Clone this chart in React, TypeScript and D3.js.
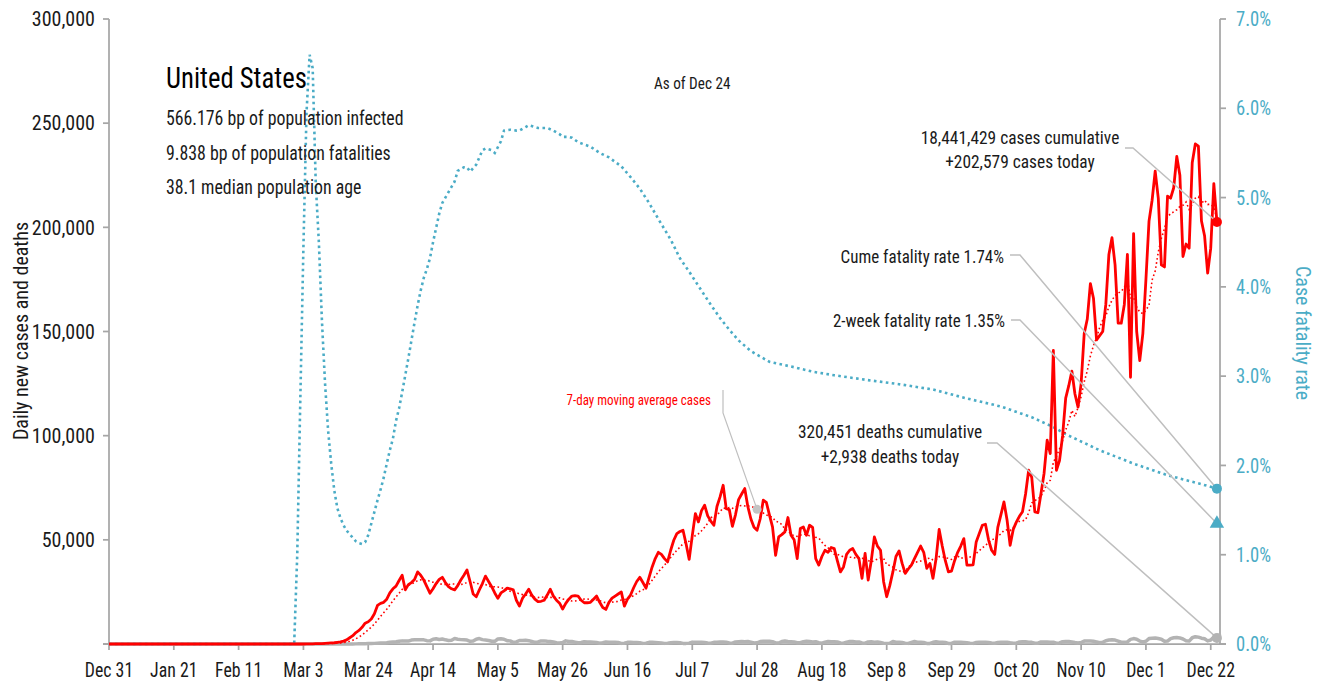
import React from "react";
import * as d3 from "d3";

// ---------- data ----------
const START = "2019-12-31";
const AXIS_END = "2020-12-25";

const tickDates = [
  "2019-12-31", "2020-01-21", "2020-02-11", "2020-03-03", "2020-03-24", "2020-04-14",
  "2020-05-05", "2020-05-26", "2020-06-16", "2020-07-07", "2020-07-28", "2020-08-18",
  "2020-09-08", "2020-09-29", "2020-10-20", "2020-11-10", "2020-12-01", "2020-12-22",
];
const leftTicks = [50000, 100000, 150000, 200000, 250000, 300000];
const rightTicks = [0, 1, 2, 3, 4, 5, 6, 7];

// daily new cases (thousands), Dec 31 2019 .. Dec 24 2020
const casesJanFeb = [
  0, 0, 0, 0, 0, 0, 0, 0, 0, 0, 0, 0, 0, 0, 0, 0, 0, 0, 0, 0,
  0, 0, 0, 0, 0, 0, 0, 0, 0, 0, 0, 0, 0, 0, 0, 0, 0, 0, 0, 0,
  0, 0, 0, 0, 0, 0, 0, 0, 0, 0, 0, 0, 0, 0, 0, 0, 0, 0, 0, 0, 0,
];
const casesMar = [0, 0, 0, 0.1, 0.1, 0.1, 0.2, 0.2, 0.2, 0.3, 0.4, 0.5, 0.6, 0.8, 1.0, 1.4, 2.0, 3.0, 4.0, 5.5, 6.5, 8.0, 10.0, 10.7, 12.0, 14.5, 18.5, 19.5, 20.0, 21.5, 24.5];
const casesApr = [26.5, 27.8, 30.5, 33.0, 26.0, 28.5, 29.5, 31.0, 34.6, 33.0, 30.7, 27.5, 24.4, 26.5, 29.0, 31.0, 32.0, 29.5, 27.5, 26.5, 26.0, 28.0, 30.7, 33.0, 35.5, 30.0, 24.0, 22.7, 26.0, 29.0];
const casesMay = [32.6, 30.0, 27.5, 24.5, 21.9, 24.5, 25.5, 26.8, 26.5, 26.0, 21.0, 18.2, 22.0, 24.0, 26.3, 23.5, 21.5, 20.3, 20.5, 21.0, 23.5, 26.3, 23.0, 21.0, 19.6, 16.8, 19.5, 21.5, 23.0, 23.2, 23.0];
const casesJun = [21.0, 19.8, 19.8, 20.0, 21.5, 23.0, 20.0, 17.5, 16.6, 20.0, 22.0, 23.0, 24.0, 25.0, 18.2, 21.5, 23.5, 27.0, 30.0, 32.0, 29.5, 26.8, 32.0, 37.0, 41.0, 44.0, 43.0, 41.0, 39.4, 45.0];
const casesJul = [49.8, 53.0, 54.0, 54.6, 48.0, 40.6, 52.0, 62.6, 58.6, 64.0, 66.6, 61.5, 59.0, 57.0, 66.0, 70.6, 76.2, 65.0, 64.5, 56.5, 62.0, 69.3, 72.0, 74.6, 66.0, 60.0, 56.0, 54.6, 60.0, 69.0, 68.0];
const casesAug = [62.0, 56.2, 42.6, 51.4, 52.5, 53.8, 60.7, 52.2, 50.0, 41.0, 55.4, 56.2, 52.2, 57.0, 56.0, 41.0, 37.9, 42.0, 45.0, 44.0, 46.3, 45.8, 40.0, 34.6, 37.0, 43.0, 45.0, 45.8, 43.0, 41.0, 31.5];
const casesSep = [43.5, 30.7, 40.0, 51.4, 47.0, 45.0, 29.9, 22.7, 28.0, 34.6, 42.0, 44.7, 38.7, 33.9, 36.0, 37.9, 41.0, 44.0, 47.0, 44.0, 36.3, 38.7, 31.5, 41.0, 55.0, 47.0, 40.0, 34.6, 35.0, 40.0];
const casesOct = [44.0, 47.0, 50.6, 37.9, 37.9, 38.0, 49.0, 53.0, 57.0, 57.5, 50.0, 45.0, 43.0, 56.0, 62.0, 68.2, 59.5, 47.4, 55.0, 58.5, 61.3, 63.5, 72.0, 83.4, 80.0, 63.4, 63.0, 72.2, 82.0, 97.8, 91.4];
const casesNov = [140.9, 83.4, 88.0, 100.0, 118.0, 124.0, 131.0, 120.0, 113.7, 125.0, 149.0, 156.0, 173.0, 166.0, 146.0, 148.0, 150.0, 163.0, 187.0, 195.0, 182.0, 154.0, 154.0, 163.0, 187.0, 128.0, 197.0, 150.0, 136.0, 149.0];
const casesDec = [175.0, 203.0, 213.0, 227.0, 214.0, 182.0, 181.0, 215.0, 214.0, 219.0, 234.0, 225.0, 186.0, 192.0, 190.0, 231.0, 240.0, 239.0, 203.0, 196.0, 178.0, 190.0, 221.0, 202.579];

// daily deaths (thousands)
const deathsJanFeb = [
  0, 0, 0, 0, 0, 0, 0, 0, 0, 0, 0, 0, 0, 0, 0, 0, 0, 0, 0, 0,
  0, 0, 0, 0, 0, 0, 0, 0, 0, 0, 0, 0, 0, 0, 0, 0, 0, 0, 0, 0,
  0, 0, 0, 0, 0, 0, 0, 0, 0, 0, 0, 0, 0, 0, 0, 0, 0, 0, 0, 0, 0,
];
const deathsMar = [0, 0, 0, 0, 0, 0, 0, 0, 0, 0, 0, 0, 0, 0, 0, 0, 0.02, 0.03, 0.05, 0.06, 0.1, 0.12, 0.14, 0.2, 0.25, 0.3, 0.4, 0.5, 0.5, 0.6, 0.9];
const deathsApr = [1.0, 1.1, 1.3, 1.5, 1.4, 1.4, 1.9, 2.0, 2.1, 2.0, 2.0, 1.6, 1.5, 2.3, 2.5, 2.2, 2.4, 2.0, 1.7, 1.8, 2.6, 2.3, 2.1, 2.0, 1.9, 1.3, 1.4, 2.3, 2.6, 2.1];
const deathsMay = [1.9, 1.7, 1.3, 1.3, 2.4, 2.5, 2.3, 1.6, 1.5, 0.8, 1.0, 1.7, 1.7, 1.8, 1.6, 1.2, 0.8, 1.0, 1.5, 1.5, 1.3, 1.2, 1.0, 0.6, 0.5, 0.7, 1.5, 1.2, 1.2, 0.9, 0.6];
const deathsJun = [0.7, 1.1, 1.0, 1.0, 0.9, 0.7, 0.4, 0.6, 1.0, 0.9, 0.9, 0.8, 0.7, 0.3, 0.4, 0.8, 0.8, 0.7, 0.7, 0.6, 0.3, 0.4, 0.8, 0.8, 0.7, 0.6, 0.5, 0.3, 0.4, 0.6];
const deathsJul = [0.7, 0.7, 0.6, 0.3, 0.3, 0.4, 0.9, 0.8, 0.9, 0.8, 0.7, 0.5, 0.4, 0.8, 0.9, 1.0, 1.0, 0.9, 0.5, 0.4, 1.0, 1.1, 1.2, 1.1, 1.2, 0.9, 0.5, 0.6, 1.2, 1.3, 1.3];
const deathsAug = [1.3, 1.1, 0.5, 0.5, 1.2, 1.4, 1.2, 1.1, 1.0, 0.6, 0.6, 1.1, 1.3, 1.2, 1.0, 1.1, 0.6, 0.4, 0.9, 1.2, 1.1, 1.1, 1.0, 0.5, 0.4, 0.9, 1.2, 1.2, 1.0, 1.0, 0.5];
const deathsSep = [0.4, 1.0, 1.1, 0.9, 1.0, 0.7, 0.4, 0.3, 0.4, 1.2, 0.9, 0.9, 0.7, 0.4, 0.3, 0.8, 1.2, 0.9, 0.9, 0.7, 0.3, 0.3, 0.8, 1.1, 0.9, 0.9, 0.7, 0.3, 0.3, 0.9];
const deathsOct = [0.9, 0.8, 0.7, 0.6, 0.4, 0.3, 0.7, 0.9, 0.9, 0.9, 0.7, 0.5, 0.4, 0.7, 0.8, 0.9, 0.9, 0.6, 0.4, 0.4, 1.0, 1.1, 1.1, 0.9, 0.8, 0.4, 0.4, 1.0, 1.0, 1.0, 0.9];
const deathsNov = [0.9, 0.4, 0.5, 1.1, 1.2, 1.2, 1.0, 0.7, 0.5, 0.7, 1.4, 1.5, 1.4, 1.3, 1.0, 0.6, 0.8, 1.6, 1.9, 2.0, 1.9, 1.4, 0.9, 0.9, 1.0, 2.2, 2.6, 2.3, 1.4, 1.0];
const deathsDec = [1.3, 2.6, 2.8, 2.9, 2.6, 2.3, 1.3, 1.4, 2.6, 3.0, 3.1, 2.9, 2.4, 1.6, 1.4, 3.0, 3.5, 3.3, 2.8, 2.5, 1.5, 1.9, 3.3, 2.938];

// cumulative case fatality rate (%), read at day offsets from Dec 31
const cfrDay = [
  0, 60, 61, 62, 63, 64, 65, 66, 67, 68, 69, 70, 71, 72, 73, 74, 75, 76, 77, 78, 79, 80,
  81, 82, 83, 84, 85, 86, 87, 88, 89, 90, 91, 92, 93, 94, 95, 96, 97, 98, 99, 100, 101, 102,
  103, 104, 105, 107, 108, 110, 112, 113, 115, 116, 117, 119, 121, 122, 124, 125, 127, 128, 130, 132,
  133, 135, 136, 138, 139, 141, 142, 144, 146, 147, 149, 150, 152, 156, 159, 162, 166, 169, 172, 175,
  178, 182, 185, 188, 191, 195, 198, 201, 204, 208, 211, 214, 218, 222, 228, 235, 245, 256, 267, 278,
  289, 299, 306, 310, 321, 332, 343, 354, 359,
];
const cfrPct = [
  0, 0, 1.0, 2.75, 4.45, 5.95, 6.6, 6.45, 5.15, 4.5, 3.62, 2.92, 2.39, 2.02, 1.72, 1.52, 1.41, 1.33, 1.27, 1.23, 1.19, 1.15,
  1.13, 1.12, 1.14, 1.22, 1.35, 1.48, 1.61, 1.73, 1.86, 2.02, 2.17, 2.3, 2.5, 2.64, 2.82, 3.01, 3.2, 3.4, 3.6, 3.79, 3.96, 4.1,
  4.2, 4.32, 4.5, 4.82, 4.94, 5.06, 5.18, 5.3, 5.34, 5.34, 5.29, 5.37, 5.53, 5.55, 5.53, 5.5, 5.63, 5.75, 5.76, 5.75,
  5.75, 5.79, 5.81, 5.79, 5.78, 5.78, 5.78, 5.75, 5.71, 5.68, 5.68, 5.67, 5.62, 5.57, 5.5, 5.45, 5.35, 5.23, 5.1, 4.94,
  4.76, 4.53, 4.32, 4.17, 4.01, 3.8, 3.65, 3.52, 3.4, 3.28, 3.22, 3.16, 3.13, 3.1, 3.05, 3.01, 2.96, 2.91, 2.85, 2.75,
  2.66, 2.54, 2.43, 2.35, 2.17, 2.02, 1.89, 1.79, 1.74,
];

const country = "United States";
const infectedBp = "566.176";
const fatalitiesBp = "9.838";
const medianAge = "38.1";
const asOfLabel = "Dec 24";
const totalCases = 18441429;
const casesToday = 202579;
const cumeFatalityRate = 1.74;
const twoWeekFatalityRate = 1.35;
const totalDeaths = 320451;
const deathsToday = 2938;
const maCalloutDay = 210;

// ---------- chart ----------
const W = 1323;
const H = 682;
const FONT = "'Liberation Sans Narrow', 'Arial Narrow', 'Roboto Condensed', 'DejaVu Sans Condensed', sans-serif";
const BLUE = "#4BACC6";
const RED = "#FF0000";
const AXIS = "#a6a6a6";
const LEADER = "#bfbfbf";
const DEATH = "#b3b3b3";
const INK = "#1a1a1a";

type TProps = {
  x: number; y: number; size: number; sx?: number; anchor?: "start" | "middle" | "end";
  fill?: string; dy?: string; children: React.ReactNode;
};
function T({ x, y, size, sx = 1, anchor = "start", fill = INK, dy, children }: TProps) {
  return (
    <text
      transform={`translate(${x},${y}) scale(${sx},1)`}
      textAnchor={anchor}
      dy={dy}
      fontSize={size}
      style={{ fontFamily: FONT, fill }}
    >
      {children}
    </text>
  );
}

export default function App() {
  const parse = d3.timeParse("%Y-%m-%d");
  const start = parse(START) as Date;
  const end = parse(AXIS_END) as Date;
  const fmt = d3.timeFormat("%b %-d");
  const num = d3.format(",");

  const cases = [
    ...casesJanFeb, ...casesMar, ...casesApr, ...casesMay, ...casesJun, ...casesJul,
    ...casesAug, ...casesSep, ...casesOct, ...casesNov, ...casesDec,
  ].map((v) => v * 1000);
  const deaths = [
    ...deathsJanFeb, ...deathsMar, ...deathsApr, ...deathsMay, ...deathsJun, ...deathsJul,
    ...deathsAug, ...deathsSep, ...deathsOct, ...deathsNov, ...deathsDec,
  ].map((v) => v * 1000);
  const ma = cases.map((_, i) => d3.mean(cases.slice(Math.max(0, i - 6), i + 1)) as number);

  const x = d3.scaleTime().domain([start, end]).range([109, 1220]);
  const yL = d3.scaleLinear().domain([0, 300000]).range([644, 19]);
  const yR = d3.scaleLinear().domain([0, 7]).range([644, 19]);
  const dayX = (i: number) => x(d3.timeDay.offset(start, i));

  const lineL = d3.line<number>().x((_, i) => dayX(i)).y((d) => yL(d));
  const cfrPts = cfrDay.map((d, i) => [d, cfrPct[i]] as [number, number]);
  const lineR = d3.line<[number, number]>().x((d) => dayX(d[0])).y((d) => yR(d[1]));

  const last = cases.length - 1;
  const lx = dayX(last);
  const caseDot: [number, number] = [lx, yL(casesToday)];
  const cumeDot: [number, number] = [lx, yR(cumeFatalityRate)];
  const twoWk: [number, number] = [lx, yR(twoWeekFatalityRate)];
  const deathDot: [number, number] = [lx, yL(deathsToday)];
  const maDot: [number, number] = [dayX(maCalloutDay), yL(ma[maCalloutDay])];

  const tri = d3.symbol(d3.symbolTriangle, 90)() as string;

  return (
    <svg width={W} height={H} style={{ position: "absolute", left: 0, top: 0, background: "#fff" }}>
      <rect x={0} y={0} width={W} height={H} fill="#fff" />

      {/* left axis */}
      <line x1={109} x2={109} y1={19} y2={644} stroke={AXIS} strokeWidth={1.75} />
      {[0, ...leftTicks].map((t) => (
        <line key={"lt" + t} x1={103} x2={109} y1={yL(t)} y2={yL(t)} stroke={AXIS} strokeWidth={1.75} />
      ))}
      {leftTicks.map((t) => (
        <T key={"ll" + t} x={95} y={yL(t)} dy="0.36em" anchor="end" size={20}>
          {num(t)}
        </T>
      ))}

      {/* right axis */}
      <line x1={1220} x2={1220} y1={19} y2={644} stroke={AXIS} strokeWidth={1.75} />
      {rightTicks.map((t) => (
        <g key={"rt" + t}>
          <line x1={1220} x2={1226} y1={yR(t)} y2={yR(t)} stroke={AXIS} strokeWidth={1.75} />
          <T x={1236} y={yR(t)} dy="0.36em" size={20} sx={0.93} fill={BLUE}>
            {t.toFixed(1) + "%"}
          </T>
        </g>
      ))}

      {/* x axis */}
      <line x1={103} x2={1226} y1={644} y2={644} stroke={AXIS} strokeWidth={1.75} />
      {tickDates.map((s) => {
        const d = parse(s) as Date;
        return (
          <g key={s}>
            <line x1={x(d)} x2={x(d)} y1={644} y2={650} stroke={AXIS} strokeWidth={1.75} />
            <T x={x(d)} y={677} anchor="middle" size={20} sx={0.89}>
              {fmt(d)}
            </T>
          </g>
        );
      })}

      {/* axis titles */}
      <text transform="translate(21,331) rotate(-90)" textAnchor="middle" dy="0.36em" fontSize={20} style={{ fontFamily: FONT, fill: INK }}>
        Daily new cases and deaths
      </text>
      <text transform="translate(1303,333) rotate(90)" textAnchor="middle" dy="0.36em" fontSize={20} style={{ fontFamily: FONT, fill: BLUE }}>
        Case fatality rate
      </text>

      {/* series */}
      <path d={lineL(deaths) as string} fill="none" stroke={DEATH} strokeWidth={3.5} strokeLinejoin="round" />
      <path d={lineR(cfrPts) as string} fill="none" stroke={BLUE} strokeWidth={2.6} strokeDasharray="2.6 3.4" />
      <path d={lineL(ma) as string} fill="none" stroke={RED} strokeWidth={1.6} strokeDasharray="1.6 2.6" />
      <path d={lineL(cases) as string} fill="none" stroke={RED} strokeWidth={2.8} strokeLinejoin="round" />

      {/* leader lines */}
      <polyline points={`1125,148 1133,148 ${caseDot[0]},${caseDot[1]}`} fill="none" stroke={LEADER} strokeWidth={1.5} />
      <polyline points={`1010,255 1020,255 ${cumeDot[0]},${cumeDot[1]}`} fill="none" stroke={LEADER} strokeWidth={1.5} />
      <polyline points={`1011,320 1020,320 ${twoWk[0]},${twoWk[1]}`} fill="none" stroke={LEADER} strokeWidth={1.5} />
      <polyline points={`987,443 997,443 ${deathDot[0]},${deathDot[1]}`} fill="none" stroke={LEADER} strokeWidth={1.5} />
      <polyline points={`723,390 723,413 ${maDot[0]},${maDot[1]}`} fill="none" stroke={LEADER} strokeWidth={1.2} />

      {/* markers */}
      <circle cx={maDot[0]} cy={maDot[1]} r={4.5} fill="#c4c4c4" />
      <circle cx={deathDot[0]} cy={deathDot[1]} r={5} fill={DEATH} />
      <path d={tri} transform={`translate(${twoWk[0]},${twoWk[1]})`} fill={BLUE} />
      <circle cx={cumeDot[0]} cy={cumeDot[1]} r={5} fill={BLUE} />
      <circle cx={caseDot[0]} cy={caseDot[1]} r={5} fill={RED} />

      {/* title block */}
      <T x={166} y={88} size={29} sx={0.92} fill="#000">{country}</T>
      <T x={166} y={125} size={20} sx={0.89}>{`${infectedBp} bp of population infected`}</T>
      <T x={166} y={159.5} size={20} sx={0.89}>{`${fatalitiesBp} bp of population fatalities`}</T>
      <T x={166} y={194} size={20} sx={0.89}>{`${medianAge} median population age`}</T>
      <T x={654} y={89} size={16} sx={0.95}>{`As of ${asOfLabel}`}</T>

      {/* annotations */}
      <T x={1020} y={144} anchor="middle" size={18.5} sx={0.94}>{`${num(totalCases)} cases cumulative`}</T>
      <T x={1020} y={168} anchor="middle" size={18.5} sx={0.94}>{`+${num(casesToday)} cases today`}</T>
      <T x={1004} y={263} anchor="end" size={18.5} sx={0.92}>{`Cume fatality rate ${cumeFatalityRate.toFixed(2)}%`}</T>
      <T x={1005} y={327} anchor="end" size={18.5} sx={0.92}>{`2-week fatality rate ${twoWeekFatalityRate.toFixed(2)}%`}</T>
      <T x={890} y={438} anchor="middle" size={18.5} sx={0.94}>{`${num(totalDeaths)} deaths cumulative`}</T>
      <T x={890} y={463} anchor="middle" size={18.5} sx={0.94}>{`+${num(deathsToday)} deaths today`}</T>
      <T x={711} y={405} anchor="end" size={14} sx={0.93} fill={RED}>7-day moving average cases</T>
    </svg>
  );
}
